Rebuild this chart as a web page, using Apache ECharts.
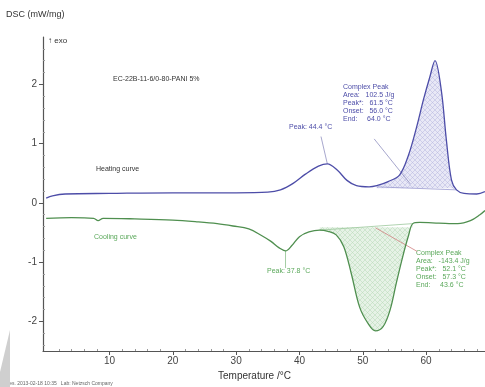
<!DOCTYPE html>
<html><head><meta charset="utf-8">
<script src="https://cdn.jsdelivr.net/npm/echarts@6/dist/echarts.min.js"></script>
<style>html,body{margin:0;padding:0;background:#fff}#c{width:485px;height:387px}</style>
</head><body><div id="c"></div>
<script>
// ---- data ----
const heatT = [0, 1, 3, 10, 20, 30, 35, 37, 39, 41, 43, 44.4, 46, 47.5, 49, 51, 52.2, 54, 55.8, 57.2, 58.5, 59.6, 60.6, 61.4, 62.4, 63.2, 64, 64.8, 66, 68, 69.3];
const heatV = [0.08, 0.12, 0.15, 0.16, 0.17, 0.17, 0.18, 0.22, 0.33, 0.49, 0.62, 0.66, 0.55, 0.38, 0.29, 0.27, 0.29, 0.36, 0.47, 0.8, 1.28, 1.75, 2.13, 2.4, 1.9, 1.06, 0.39, 0.22, 0.16, 0.15, 0.19];
const coolT = [0, 4, 7.5, 8.2, 9, 14, 20, 24, 27, 29.5, 32, 34, 35.5, 36.8, 37.8, 38.8, 40, 41.5, 43.2, 44.5, 45.8, 47, 48.2, 49.5, 50.8, 52, 53.2, 54.3, 55.3, 56.3, 57.2, 57.9, 59, 62, 65, 67, 68.5, 69.3];
const coolV = [-0.26, -0.25, -0.26, -0.3, -0.26, -0.27, -0.29, -0.32, -0.35, -0.39, -0.44, -0.55, -0.65, -0.76, -0.81, -0.72, -0.57, -0.49, -0.46, -0.48, -0.54, -0.74, -1.2, -1.76, -2.03, -2.16, -2.09, -1.81, -1.35, -0.91, -0.56, -0.35, -0.33, -0.34, -0.35, -0.3, -0.2, -0.13];
const heatPeakRange = [52.2, 64.8];
const coolPeakRange = [43.2, 57.9];
const heatBaseline = [[52.2, 0.27], [64.8, 0.22]];
const coolBaseline = [[43.2, -0.46], [57.9, -0.35]];
const heatLeader1 = [[44.4, 0.66], [43.4, 1.12]];
const heatLeader2 = [[57.5, 0.32], [51.8, 1.08]];
const coolLeader1 = [[37.8, -0.81], [37.8, -1.1]];
const coolLeader2 = [[52.0, -0.42], [58.6, -0.82]];
const xTicks = [10, 20, 30, 40, 50, 60];
const xMinor = [2, 4, 6, 8, 12, 14, 16, 18, 22, 24, 26, 28, 32, 34, 36, 38, 42, 44, 46, 48, 52, 54, 56, 58, 62, 64, 66, 68];
const yTicks = [-2, -1, 0, 1, 2];
const yMinor = [-2.4, -2.2, -1.8, -1.6, -1.4, -1.2, -0.8, -0.6, -0.4, -0.2, 0.2, 0.4, 0.6, 0.8, 1.2, 1.4, 1.6, 1.8, 2.2, 2.4, 2.6];

const F = "'Liberation Sans Narrow','Liberation Sans',Arial,sans-serif";
const blue = '#4d4da8', green = '#4f8f4f';

function hatch(bg, fg) {
  const c = document.createElement('canvas'); c.width = 5; c.height = 5;
  const g = c.getContext('2d');
  g.fillStyle = bg; g.fillRect(0, 0, 5, 5);
  g.strokeStyle = fg; g.lineWidth = 0.5;
  g.beginPath(); g.moveTo(0, 0); g.lineTo(5, 5); g.moveTo(5, 0); g.lineTo(0, 5); g.stroke();
  return { image: c, repeat: 'repeat' };
}
const zip = (t, v) => t.map((x, i) => [x, v[i]]);
const sub = (t, v, r) => zip(t, v).filter(p => p[0] >= r[0] - 1e-9 && p[0] <= r[1] + 1e-9);

const chart = echarts.init(document.getElementById('c'), null, { renderer: 'canvas' });
const axisCol = '#555';
chart.setOption({
  animation: false,
  grid: { left: 43, right: 0, top: 37, bottom: 36 },
  xAxis: [
    { type: 'value', min: -0.5, max: 69.3, splitLine: { show: false },
      axisLine: { onZero: false, lineStyle: { color: axisCol, width: 1.2 } },
      axisTick: { customValues: xTicks, length: 4, inside: false, lineStyle: { color: axisCol } },
      axisLabel: { customValues: xTicks, color: '#444', fontFamily: F, fontSize: 10, margin: 5 } },
    { type: 'value', min: -0.5, max: 69.3, position: 'bottom', splitLine: { show: false },
      axisLine: { show: false, onZero: false }, axisLabel: { show: false },
      axisTick: { customValues: xMinor, length: 2, inside: true, lineStyle: { color: '#999' } } }
  ],
  yAxis: [
    { type: 'value', min: -2.5, max: 2.8, splitLine: { show: false },
      axisLine: { show: true, onZero: false, lineStyle: { color: axisCol, width: 1.2 } },
      axisTick: { show: true, customValues: yTicks, length: 4, lineStyle: { color: axisCol } },
      axisLabel: { customValues: yTicks, color: '#444', fontFamily: F, fontSize: 10, margin: 6 } },
    { type: 'value', min: -2.5, max: 2.8, position: 'left', splitLine: { show: false },
      axisLine: { show: false, onZero: false }, axisLabel: { show: false },
      axisTick: { show: true, customValues: yMinor, length: 2, inside: true, lineStyle: { color: '#999' } } }
  ],
  series: [
    { type: 'line', data: sub(heatT, heatV, heatPeakRange), smooth: 0.35, symbol: 'none',
      lineStyle: { width: 0 }, areaStyle: { origin: 0.245, color: hatch('#e8e8f6', '#b4b4de'), opacity: 1 }, z: 1 },
    { type: 'line', data: sub(coolT, coolV, coolPeakRange), smooth: 0.35, symbol: 'none',
      lineStyle: { width: 0 }, areaStyle: { origin: -0.41, color: hatch('#e6f2e6', '#b6d9b6'), opacity: 1 }, z: 1 },
    { type: 'line', data: heatBaseline, symbol: 'none', lineStyle: { color: '#9a9ad0', width: 0.8 }, z: 2 },
    { type: 'line', data: coolBaseline, symbol: 'none', lineStyle: { color: '#9cc89c', width: 0.8 }, z: 2 },
    { type: 'line', data: heatLeader1, symbol: 'none', lineStyle: { color: '#9090c0', width: 0.8 }, z: 2 },
    { type: 'line', data: heatLeader2, symbol: 'none', lineStyle: { color: '#9090c0', width: 0.8 }, z: 2 },
    { type: 'line', data: coolLeader1, symbol: 'none', lineStyle: { color: '#8cc08c', width: 0.8 }, z: 2 },
    { type: 'line', data: coolLeader2, symbol: 'none', lineStyle: { color: '#d08080', width: 0.8 }, z: 2 },
    { name: 'Heating curve', type: 'line', data: zip(heatT, heatV), smooth: 0.35, symbol: 'none',
      lineStyle: { color: blue, width: 1.3 }, z: 3 },
    { name: 'Cooling curve', type: 'line', data: zip(coolT, coolV), smooth: 0.35, symbol: 'none',
      lineStyle: { color: green, width: 1.3 }, z: 3 }
  ],
  graphic: [
    { type: 'text', left: 6, top: 10, style: { text: 'DSC (mW/mg)', font: '9px ' + F, fill: '#333' } },
    { type: 'text', left: 48, top: 37, style: { text: '↑ exo', font: '8px ' + F, fill: '#333' } },
    { type: 'text', left: 113, top: 76, style: { text: 'EC-22B-11-6/0-80-PANI 5%', font: '7px ' + F, fill: '#333' } },
    { type: 'text', left: 96, top: 166, style: { text: 'Heating curve', font: '7px ' + F, fill: '#333' } },
    { type: 'text', left: 94, top: 234, style: { text: 'Cooling curve', font: '7px ' + F, fill: '#5aa85a' } },
    { type: 'text', left: 289, top: 124, style: { text: 'Peak: 44.4 °C', font: '7px ' + F, fill: blue } },
    { type: 'text', left: 343, top: 83, style: { text: 'Complex Peak\nArea:   102.5 J/g\nPeak*:   61.5 °C\nOnset:   56.0 °C\nEnd:     64.0 °C', font: '7px ' + F, fill: blue, lineHeight: 8 } },
    { type: 'text', left: 267, top: 268, style: { text: 'Peak: 37.8 °C', font: '7px ' + F, fill: '#5aa85a' } },
    { type: 'text', left: 416, top: 249, style: { text: 'Complex Peak\nArea:   -143.4 J/g\nPeak*:   52.1 °C\nOnset:   57.3 °C\nEnd:     43.6 °C', font: '7px ' + F, fill: '#5aa85a', lineHeight: 8 } },
    { type: 'text', left: 218, top: 371, style: { text: 'Temperature /°C', font: '10px ' + F, fill: '#333' } },
    { type: 'text', left: 5, top: 381, style: { text: 'Mes. 2013-02-18 10:35   Lab: Netzsch Company', font: '5px ' + F, fill: '#666' } },
    { type: 'polygon', shape: { points: [[0, 372], [10, 330], [10, 387], [0, 387]] }, style: { fill: '#cfcfcf' } }
  ]
});
</script></body></html>
